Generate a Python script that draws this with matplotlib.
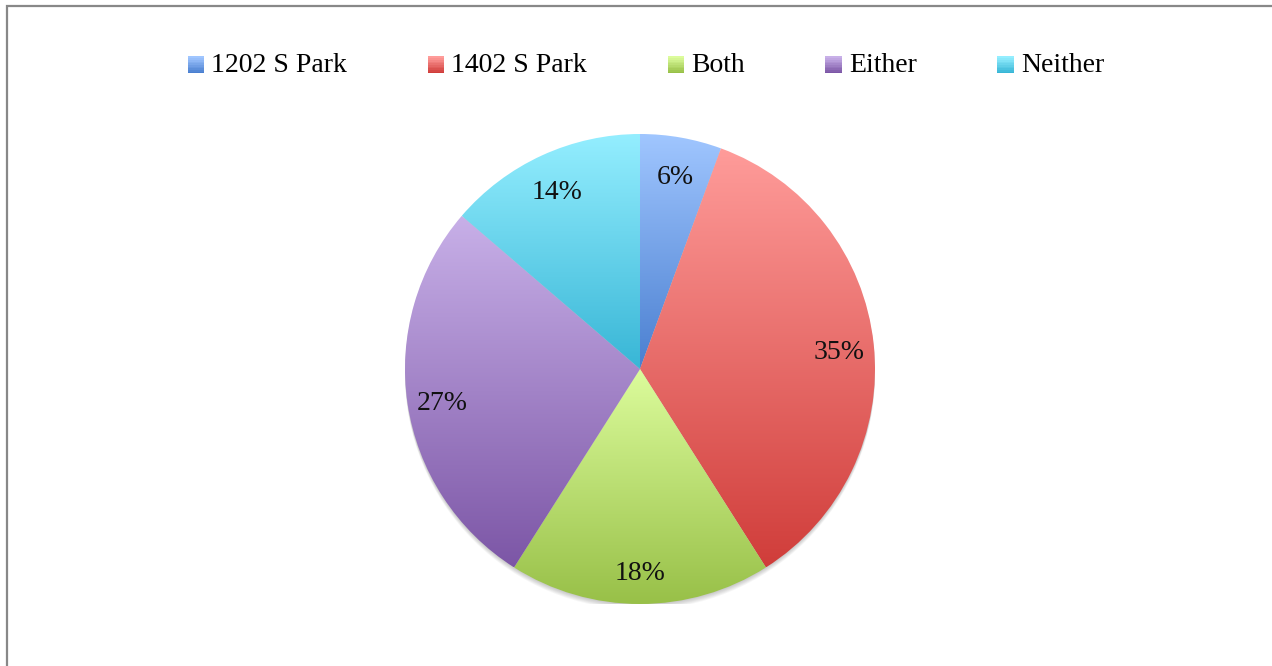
import numpy as np
import matplotlib
matplotlib.use('Agg')
import matplotlib.pyplot as plt
from matplotlib.colors import LinearSegmentedColormap
from matplotlib.patches import Rectangle, Circle
from matplotlib.legend_handler import HandlerBase

labels = ['1202 S Park', '1402 S Park', 'Both', 'Either', 'Neither']
values = [5.6, 35.4, 18.0, 27.3, 13.7]
tops = ['#a0c6ff', '#ff9c9a', '#dcfc9c', '#c8b0e8', '#94eeff']
bottoms = ['#4a7fd0', '#d03d3a', '#98c048', '#7c56a6', '#38b6d6']

plt.rcParams['font.family'] = ['Liberation Serif', 'DejaVu Serif']

fig = plt.figure(figsize=(12.72, 6.66), dpi=100)
ax = fig.add_axes([405 / 1272, 62 / 666, 470 / 1272, 470 / 666])

wedges, texts, autotexts = ax.pie(values, startangle=90, counterclock=False,
                                  autopct='%1.0f%%', pctdistance=0.85,
                                  wedgeprops=dict(linewidth=0),
                                  textprops=dict(fontsize=20, color='#111111'))

# soft shadow under the pie
for i in range(6):
    ax.add_patch(Circle((0, -0.004 - i * 0.004), 1.0, facecolor='#000000',
                        edgecolor='none', alpha=0.035, zorder=0.1))

# vertical gradient fill for each slice
grad = np.linspace(0, 1, 256).reshape(-1, 1)
for w, top, bot in zip(wedges, tops, bottoms):
    w.set_facecolor('none')
    v = w.get_path().vertices
    x0, x1 = v[:, 0].min(), v[:, 0].max()
    y0, y1 = v[:, 1].min(), v[:, 1].max()
    cmap = LinearSegmentedColormap.from_list('g', [bot, top])
    im = ax.imshow(grad, cmap=cmap, extent=[x0, x1, y0, y1], origin='lower',
                   aspect='auto', zorder=0.5)
    im.set_clip_path(w)

for t in autotexts:
    t.set_zorder(5)
    x, y = t.get_position()
    t.set_position((x, y - 0.02))

ax.set_xlim(-1, 1)
ax.set_ylim(-1, 1)
ax.set_aspect('equal')
ax.axis('off')


class GradHandler(HandlerBase):
    def __init__(self, top, bot):
        super().__init__()
        self.top = top
        self.bot = bot

    def create_artists(self, legend, orig, xd, yd, width, height, fontsize, trans):
        cmap = LinearSegmentedColormap.from_list('g', [self.bot, self.top])
        n = 10
        side = min(width, height)
        arts = []
        for i in range(n):
            r = Rectangle((xd + width - side, yd + side * i / n), side, side / n + 0.3,
                          facecolor=cmap(i / (n - 1)), edgecolor='none', transform=trans)
            arts.append(r)
        return arts


handles = [Rectangle((0, 0), 1, 1) for _ in labels]
hmap = {h: GradHandler(t, b) for h, t, b in zip(handles, tops, bottoms)}
fig.legend(handles, labels, handler_map=hmap, loc='center', bbox_to_anchor=(646 / 1272, 1 - 66 / 666),
           ncol=5, frameon=False, fontsize=20, handlelength=0.6, handleheight=0.6,
           handletextpad=0.25, columnspacing=2.9)

# outer border of the chart area
fig.add_artist(Rectangle((6.5 / 1272, -0.5), 2, 0.5 + 1 - 5.5 / 666, transform=fig.transFigure,
                         facecolor='none', edgecolor='#888888', linewidth=1.6, clip_on=False))

fig.savefig('out.png', dpi=100)
